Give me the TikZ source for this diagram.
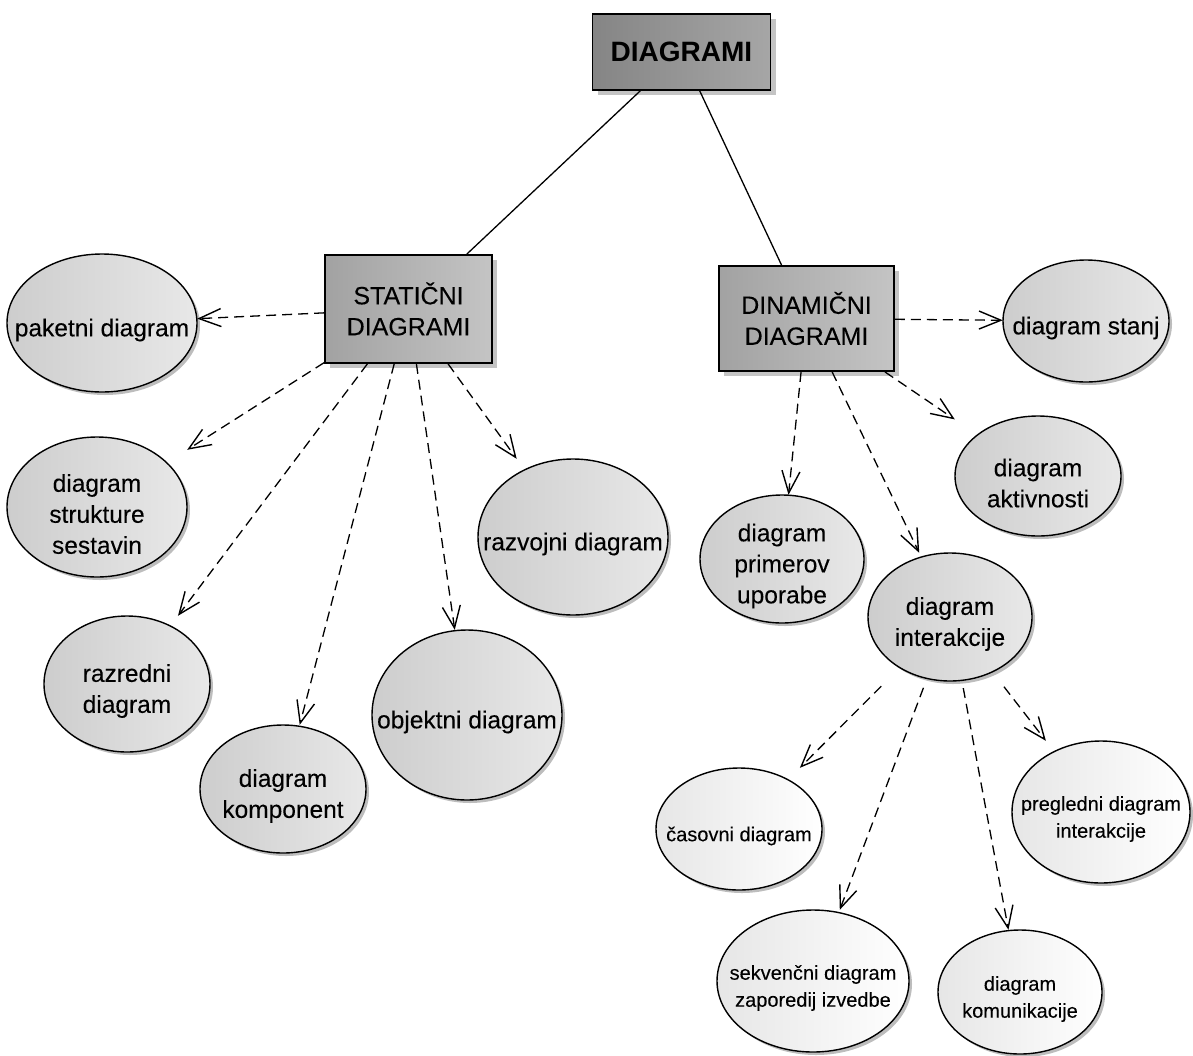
\documentclass[tikz,border=0pt]{standalone}
\usepackage{fontspec}
\setmainfont{Liberation Sans}[UprightFeatures={FakeBold=0.12}]
\usetikzlibrary{arrows.meta,shadows}

\definecolor{rootL}{HTML}{858585}
\definecolor{rootR}{HTML}{A6A6A6}
\definecolor{groupL}{HTML}{A2A2A2}
\definecolor{groupR}{HTML}{C4C4C4}
\definecolor{caseL}{HTML}{CDCDCD}
\definecolor{caseR}{HTML}{E8E8E8}
\definecolor{leafL}{HTML}{E6E6E6}
\definecolor{boxshadow}{HTML}{C4C4C4}
\definecolor{ovalshadow}{HTML}{BDBDBD}

\tikzset{
  x=1pt, y=-1pt,
  rootbox/.style={draw=black, line width=1.8, inner sep=0,
    left color=rootL, right color=rootR,
    general shadow={shadow xshift=5pt, shadow yshift=-5pt, fill=boxshadow},
    font=\bfseries\fontsize{28}{32}\selectfont},
  groupbox/.style={draw=black, line width=1.8, inner sep=0, align=center,
    left color=groupL, right color=groupR,
    general shadow={shadow xshift=5pt, shadow yshift=-5pt, fill=boxshadow},
    font=\fontsize{25}{31}\selectfont},
  grayoval/.style={draw=black, line width=1.4,
    left color=caseL, right color=caseR,
    general shadow={shadow xshift=3pt, shadow yshift=-3pt, fill=ovalshadow}},
  whiteoval/.style={draw=black, line width=1.4,
    left color=leafL, middle color=white, right color=white,
    general shadow={shadow xshift=3pt, shadow yshift=-3pt, fill=ovalshadow}},
  ovalframe/.style={shape=rectangle, inner sep=0},
  ovaltext/.style={inner sep=0, align=center, yshift=-7pt},
  bigtext/.style={font=\fontsize{24.5}{31}\selectfont},
  smalltext/.style={font=\fontsize{20}{27}\selectfont},
  link/.style={draw=black, line width=1.3},
  dep/.style={draw=black, line width=1.3, dash pattern=on 10pt off 6pt,
    -{Straight Barb[length=22pt, width=18pt, line width=1.4pt]}},
}

% #1 oval style, #2 node name, #3 centre, #4 x radius, #5 y radius, #6 text style, #7 text
% the frame node (#2) spans the oval's bounding box; connectors end on it
\newcommand\umlcase[7]{%
  \path[#1] #3 ellipse [x radius=#4, y radius=#5];
  \node[ovalframe, minimum width=2*#4, minimum height=2*#5] (#2) at #3 {};
  \node[ovaltext, #6] (#2 text) at #3 {#7};
}

\begin{document}
\begin{tikzpicture}
\useasboundingbox (0,0) rectangle (1193,1055);

% package boxes
\node[rootbox, minimum width=178, minimum height=76] (top) at (681.5,52) {DIAGRAMI};
\node[groupbox, minimum width=167, minimum height=108] (stat) at (408.5,309) {STATIČNI\\DIAGRAMI};
\node[groupbox, minimum width=175, minimum height=105] (dyn) at (806.5,318.5) {DINAMIČNI\\DIAGRAMI};

% static diagrams
\umlcase{grayoval}{pak}{(102,323)}{95}{69}{bigtext}{paketni diagram}
\umlcase{grayoval}{str}{(97,507)}{90}{70}{bigtext}{diagram\\strukture\\sestavin}
\umlcase{grayoval}{raz}{(127,684)}{83}{68}{bigtext}{razredni\\diagram}
\umlcase{grayoval}{kom}{(283,789)}{83}{64}{bigtext}{diagram\\komponent}
\umlcase{grayoval}{obj}{(467,715)}{95}{85}{bigtext}{objektni diagram}
\umlcase{grayoval}{rzv}{(573,537)}{95}{78}{bigtext}{razvojni diagram}

% dynamic diagrams
\umlcase{grayoval}{sta}{(1086,321)}{83}{61}{bigtext}{diagram stanj}
\umlcase{grayoval}{akt}{(1038,476)}{83}{60}{bigtext}{diagram\\aktivnosti}
\umlcase{grayoval}{pri}{(782,559)}{82}{64}{bigtext}{diagram\\primerov\\uporabe}
\umlcase{grayoval}{int}{(950,617)}{82}{64}{bigtext}{diagram\\interakcije}

% interaction diagrams
\umlcase{whiteoval}{cas}{(739,829)}{83}{61}{smalltext}{časovni diagram}
\umlcase{whiteoval}{pre}{(1101,812)}{89}{71}{smalltext}{pregledni diagram\\interakcije}
\umlcase{whiteoval}{sek}{(813,981)}{96}{71}{smalltext}{sekvenčni diagram\\zaporedij izvedbe}
\umlcase{whiteoval}{kmk}{(1020,992)}{82}{62}{smalltext}{diagram\\komunikacije}

% containment
\draw[link] (top) -- (stat);
\draw[link] (top) -- (dyn);

% dependencies
\draw[dep] (stat) -- (pak);
\draw[dep] (stat) -- (str);
\draw[dep] (stat) -- (raz);
\draw[dep] (stat) -- (kom);
\draw[dep] (stat) -- (obj);
\draw[dep] (stat) -- (rzv);

\draw[dep] (dyn) -- (sta);
\draw[dep] (dyn) -- (akt);
\draw[dep] (dyn) -- (pri);
\draw[dep] (dyn) -- (int);

\draw[dep, shorten <=7pt] (int) -- (cas);
\draw[dep, shorten <=7pt] (int) -- (sek);
\draw[dep, shorten <=7pt] (int) -- (kmk);
\draw[dep, shorten <=7pt] (int) -- (pre);
\end{tikzpicture}
\end{document}
